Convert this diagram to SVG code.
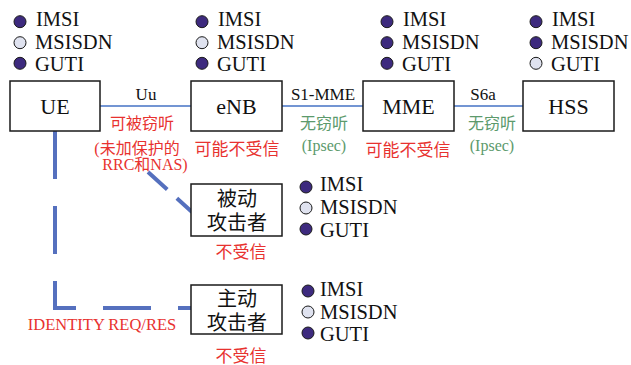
<svg xmlns="http://www.w3.org/2000/svg" width="631" height="365" viewBox="0 0 631 365">
<style>
.box{fill:#fff;stroke:#1a1a1a;stroke-width:1.5}
.bt{font-family:"Liberation Serif","Noto Sans CJK SC",serif;font-size:22px;fill:#111;text-anchor:middle}
.ct{font-family:"Liberation Serif","Noto Sans CJK SC",serif;font-size:20px;fill:#111;text-anchor:middle}
.it{font-family:"Liberation Serif",serif;font-size:20.5px;fill:#111}
.on{fill:#3d2a7e;stroke:#1a1a1a;stroke-width:1}
.off{fill:#dfe2ef;stroke:#1a1a1a;stroke-width:1}
.lk{stroke:#4472c4;stroke-width:1.3;fill:none}
.dl{stroke:#5570be;stroke-width:4;fill:none;stroke-dasharray:48 27}
.ll{font-family:"Liberation Serif",serif;font-size:17px;fill:#111;text-anchor:middle}
.red{font-family:"Liberation Serif","Noto Sans CJK SC",serif;font-size:16px;fill:#e8322f;text-anchor:middle}
.grn{font-family:"Liberation Serif","Noto Sans CJK SC",serif;font-size:16px;fill:#5c9a6c;text-anchor:middle}
</style>
<g id="connectors">
<line class="lk" x1="100" y1="106" x2="191" y2="106"/>
<line class="lk" x1="282" y1="106" x2="363" y2="106"/>
<line class="lk" x1="454" y1="106" x2="523" y2="106"/>
<path class="dl" d="M55,131 V308 H191"/>
<path class="dl" style="stroke-dasharray:26 13" d="M148,172 L192,212"/>
<text class="ll" x="146" y="100">Uu</text>
<text class="ll" x="323" y="100">S1-MME</text>
<text class="ll" x="483" y="100">S6a</text>
<text class="red" x="142" y="129">可被窃听</text>
<text class="red" x="137" y="154">(未加保护的</text>
<text class="red" x="145" y="170">RRC和NAS)</text>
<text class="grn" x="324" y="129">无窃听</text>
<text class="grn" x="324" y="151">(Ipsec)</text>
<text class="grn" x="492" y="129">无窃听</text>
<text class="grn" x="492" y="151">(Ipsec)</text>
<text class="red" style="font-size:16.5px" x="102" y="330">IDENTITY REQ/RES</text>
</g>
<g id="UE">
<rect class="box" x="10" y="81" width="90" height="50"/>
<text class="bt" x="55" y="114">UE</text>
<circle class="on" cx="20" cy="21.7" r="6"/><text class="it" x="36" y="26">IMSI</text>
<circle class="off" cx="20" cy="42.7" r="6"/><text class="it" x="35" y="48.5">MSISDN</text>
<circle class="on" cx="20" cy="63.3" r="6"/><text class="it" x="35" y="71">GUTI</text>
</g>
<g id="eNB">
<rect class="box" x="191" y="81" width="91" height="50"/>
<text class="bt" x="236.5" y="114">eNB</text>
<circle class="on" cx="202" cy="21.7" r="6"/><text class="it" x="218" y="26">IMSI</text>
<circle class="off" cx="202" cy="42.7" r="6"/><text class="it" x="217" y="48.5">MSISDN</text>
<circle class="on" cx="202" cy="63.3" r="6"/><text class="it" x="217" y="71">GUTI</text>
<text class="red" style="font-size:17px" x="237" y="155">可能不受信</text>
</g>
<g id="MME">
<rect class="box" x="363" y="81" width="91" height="50"/>
<text class="bt" x="408.5" y="114">MME</text>
<circle class="on" cx="387" cy="21.7" r="6"/><text class="it" x="403" y="26">IMSI</text>
<circle class="on" cx="387" cy="42.7" r="6"/><text class="it" x="402" y="48.5">MSISDN</text>
<circle class="on" cx="387" cy="63.3" r="6"/><text class="it" x="402" y="71">GUTI</text>
<text class="red" style="font-size:17px" x="408" y="156">可能不受信</text>
</g>
<g id="HSS">
<rect class="box" x="523" y="81" width="91" height="50"/>
<text class="bt" x="568.5" y="114">HSS</text>
<circle class="on" cx="536" cy="21.7" r="6"/><text class="it" x="552" y="26">IMSI</text>
<circle class="on" cx="536" cy="42.7" r="6"/><text class="it" x="551" y="48.5">MSISDN</text>
<circle class="off" cx="536" cy="63.3" r="6"/><text class="it" x="551" y="71">GUTI</text>
</g>
<g id="passive">
<rect class="box" x="191" y="184" width="91" height="52"/>
<text class="ct" x="237" y="206">被动</text>
<text class="ct" x="237" y="230">攻击者</text>
<circle class="on" cx="306" cy="187" r="6"/><text class="it" x="320" y="191">IMSI</text>
<circle class="off" cx="306" cy="208" r="6"/><text class="it" x="320" y="214">MSISDN</text>
<circle class="on" cx="306" cy="229" r="6"/><text class="it" x="320" y="237">GUTI</text>
<text class="red" style="font-size:17px" x="241" y="258">不受信</text>
</g>
<g id="active">
<rect class="box" x="191" y="285" width="91" height="49"/>
<text class="ct" x="237" y="306">主动</text>
<text class="ct" x="237" y="330">攻击者</text>
<circle class="on" cx="308" cy="291" r="6"/><text class="it" x="320" y="296">IMSI</text>
<circle class="off" cx="308" cy="312" r="6"/><text class="it" x="320" y="318.5">MSISDN</text>
<circle class="on" cx="308" cy="333" r="6"/><text class="it" x="320" y="341">GUTI</text>
<text class="red" style="font-size:17px" x="241" y="362">不受信</text>
</g>
</svg>
